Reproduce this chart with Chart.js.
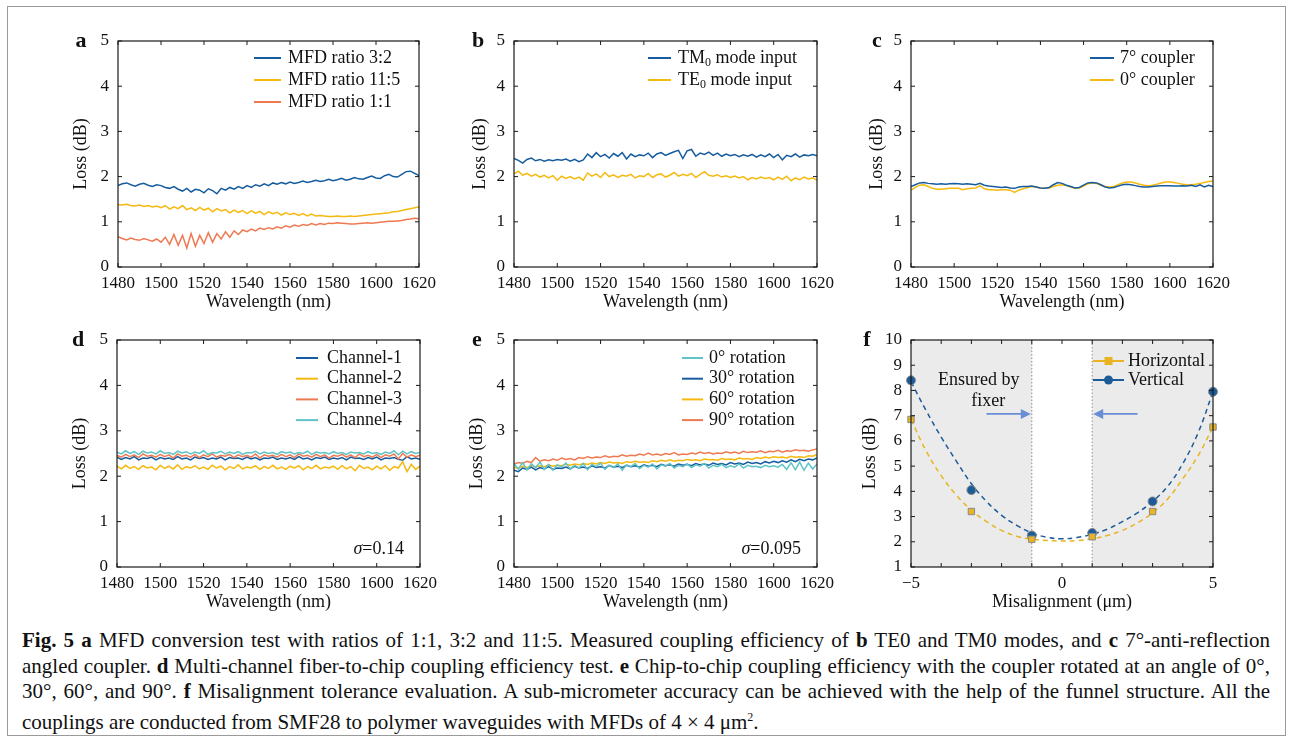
<!DOCTYPE html>
<html>
<head>
<meta charset="utf-8">
<script src="https://cdn.jsdelivr.net/npm/chart.js@4.4.1/dist/chart.umd.min.js"></script>
<style>
  body { margin: 0; background: #fff; width: 1292px; height: 741px; overflow: hidden; position: relative;
         font-family: "Liberation Serif", "Times New Roman", serif; }
  canvas { position: absolute; }
  #frame { position: absolute; left: 7px; top: 6px; width: 1277px; height: 728px; border: 1px solid #9a9a9a; }
  #caption { position: absolute; left: 22px; top: 628px; width: 1248px; font-size: 21px; line-height: 25.6px; color: #111; }
  #caption div { text-align: justify; text-align-last: justify; white-space: nowrap; }
  #caption div.last { text-align-last: left; }
</style>
</head>
<body>
<div id="frame"></div>
<canvas id="pa"></canvas>
<canvas id="pb"></canvas>
<canvas id="pc"></canvas>
<canvas id="pd"></canvas>
<canvas id="pe"></canvas>
<canvas id="pf"></canvas>
<div id="caption">
  <div><b>Fig. 5 a</b> MFD conversion test with ratios of 1:1, 3:2 and 11:5. Measured coupling efficiency of <b>b</b> TE0 and TM0 modes, and <b>c</b> 7°-anti-reflection</div>
  <div>angled coupler. <b>d</b> Multi-channel fiber-to-chip coupling efficiency test. <b>e</b> Chip-to-chip coupling efficiency with the coupler rotated at an angle of 0°,</div>
  <div>30°, 60°, and 90°. <b>f</b> Misalignment tolerance evaluation. A sub-micrometer accuracy can be achieved with the help of the funnel structure. All the</div>
  <div class="last">couplings are conducted from SMF28 to polymer waveguides with MFDs of 4 × 4 μm<sup style="font-size:12px">2</sup>.</div>
</div>
<script>
// wavelength grid, 1480..1620 nm every 2 nm (71 points)
var wavelength = [];
for (var w = 1480; w <= 1620; w += 2) wavelength.push(w);

// a - MFD ratios
var mfd32 = [
  1.80,1.84,1.86,1.82,1.79,1.83,1.85,1.81,1.78,1.82,
  1.80,1.76,1.74,1.78,1.72,1.68,1.74,1.66,1.72,1.70,
  1.64,1.73,1.69,1.62,1.74,1.70,1.76,1.72,1.78,1.74,
  1.80,1.76,1.82,1.79,1.84,1.80,1.86,1.83,1.87,1.84,
  1.88,1.85,1.87,1.90,1.87,1.89,1.92,1.89,1.91,1.94,
  1.91,1.93,1.96,1.92,1.94,1.98,1.95,1.94,1.98,2.01,
  1.97,1.96,2.02,2.05,2.00,1.99,2.05,2.11,2.12,2.07,
  2.02];
var mfd115 = [
  1.38,1.37,1.39,1.36,1.35,1.37,1.34,1.36,1.33,1.35,
  1.31,1.36,1.28,1.33,1.29,1.36,1.27,1.31,1.25,1.32,
  1.26,1.30,1.22,1.29,1.24,1.27,1.20,1.26,1.21,1.25,
  1.18,1.24,1.19,1.23,1.16,1.22,1.18,1.21,1.15,1.20,
  1.16,1.19,1.14,1.18,1.13,1.17,1.13,1.14,1.13,1.12,
  1.12,1.13,1.12,1.12,1.13,1.12,1.13,1.14,1.15,1.16,
  1.17,1.18,1.19,1.20,1.22,1.23,1.25,1.27,1.29,1.31,
  1.33];
var mfd11 = [
  0.67,0.63,0.60,0.64,0.61,0.59,0.63,0.60,0.57,0.62,
  0.55,0.66,0.50,0.72,0.48,0.70,0.42,0.74,0.46,0.70,
  0.52,0.76,0.55,0.74,0.62,0.78,0.66,0.80,0.72,0.82,
  0.78,0.84,0.80,0.86,0.83,0.87,0.84,0.89,0.86,0.91,
  0.88,0.93,0.90,0.94,0.92,0.96,0.93,0.96,0.94,0.97,
  0.96,0.98,0.97,0.96,0.95,0.95,0.96,0.97,0.98,0.97,
  0.98,0.99,1.00,1.01,1.01,1.02,1.03,1.05,1.06,1.08,
  1.07];

// b - TM0 / TE0 input
var tm0 = [
  2.40,2.36,2.30,2.38,2.41,2.35,2.38,2.34,2.37,2.35,
  2.38,2.36,2.39,2.34,2.38,2.33,2.37,2.50,2.42,2.53,
  2.44,2.49,2.41,2.51,2.45,2.53,2.39,2.50,2.44,2.48,
  2.46,2.52,2.42,2.50,2.53,2.47,2.51,2.55,2.58,2.40,
  2.57,2.60,2.45,2.52,2.49,2.54,2.47,2.52,2.45,2.50,
  2.46,2.49,2.44,2.48,2.45,2.49,2.43,2.48,2.44,2.50,
  2.42,2.49,2.37,2.47,2.44,2.50,2.43,2.48,2.46,2.49,
  2.46];
var te0 = [
  2.06,2.12,2.03,2.07,2.01,2.05,1.99,2.03,1.97,2.02,
  1.92,2.01,1.96,2.00,1.95,1.99,1.92,2.08,2.01,2.06,
  1.98,2.09,2.00,2.04,1.98,2.03,2.01,2.05,1.97,2.02,
  2.00,2.07,1.98,2.04,2.06,1.99,2.03,2.09,2.01,2.05,
  2.02,2.07,1.98,2.05,2.11,2.03,2.01,2.04,1.99,2.02,
  1.98,2.01,1.97,2.00,1.93,1.98,1.95,1.99,1.96,1.98,
  1.93,1.99,1.94,2.01,1.91,1.97,1.93,1.99,1.95,1.97,
  1.92];

// c - angled couplers
var coupler7 = [
  1.78,1.82,1.86,1.87,1.85,1.84,1.83,1.84,1.83,1.84,
  1.85,1.84,1.83,1.84,1.83,1.82,1.85,1.81,1.79,1.78,
  1.77,1.76,1.77,1.75,1.74,1.77,1.78,1.78,1.79,1.77,
  1.75,1.74,1.76,1.82,1.87,1.85,1.81,1.78,1.75,1.76,
  1.81,1.86,1.87,1.86,1.82,1.77,1.75,1.76,1.79,1.82,
  1.83,1.82,1.80,1.78,1.77,1.77,1.78,1.79,1.80,1.80,
  1.80,1.79,1.79,1.80,1.79,1.81,1.78,1.82,1.77,1.81,
  1.78];
var coupler0 = [
  1.70,1.76,1.81,1.82,1.78,1.74,1.72,1.72,1.73,1.74,
  1.74,1.74,1.71,1.73,1.74,1.75,1.80,1.73,1.71,1.71,
  1.70,1.71,1.71,1.70,1.65,1.70,1.73,1.76,1.78,1.77,
  1.75,1.74,1.75,1.78,1.81,1.82,1.80,1.77,1.74,1.75,
  1.79,1.84,1.86,1.85,1.81,1.78,1.77,1.78,1.82,1.86,
  1.88,1.88,1.86,1.83,1.81,1.80,1.81,1.83,1.86,1.88,
  1.88,1.87,1.85,1.83,1.82,1.82,1.83,1.85,1.87,1.89,
  1.90];

// d - channels
var channel1 = [
  2.42,2.37,2.41,2.38,2.43,2.36,2.40,2.39,2.42,2.36,
  2.41,2.38,2.40,2.37,2.43,2.38,2.40,2.36,2.42,2.39,
  2.41,2.37,2.40,2.38,2.42,2.36,2.41,2.39,2.40,2.37,
  2.42,2.38,2.41,2.36,2.40,2.39,2.42,2.37,2.40,2.38,
  2.41,2.37,2.43,2.38,2.40,2.36,2.41,2.39,2.42,2.37,
  2.40,2.38,2.41,2.36,2.42,2.39,2.40,2.37,2.41,2.38,
  2.42,2.36,2.40,2.39,2.41,2.37,2.35,2.43,2.38,2.40,
  2.37];
var channel2 = [
  2.22,2.16,2.24,2.17,2.21,2.15,2.23,2.18,2.20,2.14,
  2.24,2.17,2.22,2.16,2.25,2.15,2.21,2.18,2.23,2.16,
  2.20,2.15,2.24,2.18,2.22,2.14,2.21,2.17,2.25,2.16,
  2.20,2.18,2.23,2.15,2.21,2.17,2.24,2.16,2.20,2.15,
  2.22,2.18,2.23,2.14,2.21,2.17,2.24,2.16,2.20,2.18,
  2.22,2.15,2.23,2.16,2.21,2.12,2.24,2.17,2.20,2.14,
  2.22,2.16,2.23,2.13,2.21,2.18,2.32,2.10,2.26,2.15,
  2.22];
var channel3 = [
  2.46,2.42,2.48,2.43,2.47,2.41,2.49,2.44,2.46,2.42,
  2.48,2.43,2.47,2.40,2.49,2.44,2.46,2.42,2.48,2.41,
  2.47,2.43,2.49,2.42,2.46,2.44,2.48,2.41,2.47,2.43,
  2.46,2.42,2.49,2.40,2.47,2.44,2.46,2.42,2.48,2.43,
  2.47,2.41,2.49,2.44,2.46,2.42,2.48,2.43,2.47,2.40,
  2.46,2.44,2.48,2.42,2.47,2.41,2.49,2.43,2.46,2.42,
  2.48,2.41,2.47,2.44,2.49,2.38,2.50,2.42,2.47,2.43,
  2.46];
var channel4 = [
  2.53,2.49,2.56,2.50,2.54,2.48,2.55,2.51,2.53,2.49,
  2.56,2.50,2.52,2.48,2.55,2.51,2.54,2.49,2.53,2.50,
  2.56,2.48,2.52,2.51,2.55,2.49,2.53,2.50,2.54,2.48,
  2.52,2.51,2.55,2.49,2.53,2.50,2.52,2.48,2.54,2.51,
  2.53,2.49,2.52,2.50,2.55,2.48,2.53,2.51,2.52,2.49,
  2.54,2.50,2.52,2.48,2.53,2.51,2.52,2.49,2.54,2.50,
  2.52,2.48,2.53,2.50,2.56,2.47,2.55,2.49,2.54,2.50,
  2.52];

// e - rotation
var rot0 = [
  2.28,2.16,2.30,2.14,2.27,2.19,2.31,2.15,2.26,2.13,
  2.25,2.20,2.29,2.16,2.24,2.18,2.28,2.14,2.26,2.21,
  2.29,2.15,2.24,2.19,2.27,2.13,2.25,2.21,2.28,2.17,
  2.24,2.20,2.27,2.16,2.25,2.22,2.28,2.18,2.24,2.21,
  2.27,2.19,2.25,2.22,2.28,2.18,2.24,2.21,2.26,2.19,
  2.23,2.20,2.27,2.18,2.24,2.21,2.22,2.19,2.24,2.21,
  2.23,2.20,2.26,2.15,2.30,2.14,2.31,2.13,2.29,2.16,
  2.27];
var rot30 = [
  2.13,2.10,2.18,2.15,2.20,2.14,2.19,2.16,2.21,2.15,
  2.18,2.17,2.20,2.16,2.22,2.18,2.20,2.17,2.23,2.19,
  2.21,2.18,2.24,2.20,2.22,2.19,2.24,2.21,2.23,2.20,
  2.25,2.22,2.24,2.21,2.26,2.23,2.25,2.22,2.27,2.24,
  2.26,2.23,2.28,2.25,2.27,2.24,2.29,2.26,2.28,2.25,
  2.30,2.27,2.29,2.26,2.31,2.28,2.30,2.27,2.32,2.29,
  2.33,2.30,2.34,2.31,2.36,2.32,2.37,2.34,2.38,2.36,
  2.40];
var rot60 = [
  2.20,2.17,2.22,2.19,2.24,2.20,2.23,2.21,2.25,2.22,
  2.24,2.23,2.26,2.24,2.27,2.25,2.28,2.26,2.29,2.27,
  2.30,2.28,2.31,2.29,2.30,2.28,2.32,2.30,2.33,2.31,
  2.32,2.30,2.34,2.32,2.35,2.33,2.36,2.33,2.35,2.34,
  2.37,2.35,2.36,2.34,2.38,2.36,2.37,2.35,2.39,2.37,
  2.38,2.36,2.40,2.38,2.39,2.37,2.41,2.39,2.42,2.40,
  2.43,2.41,2.42,2.40,2.44,2.42,2.43,2.41,2.45,2.44,
  2.48];
var rot90 = [
  2.27,2.30,2.28,2.33,2.30,2.41,2.33,2.36,2.34,2.38,
  2.35,2.40,2.37,2.39,2.36,2.41,2.39,2.43,2.40,2.42,
  2.41,2.45,2.42,2.44,2.43,2.47,2.44,2.46,2.45,2.49,
  2.46,2.51,2.47,2.49,2.46,2.50,2.48,2.52,2.47,2.49,
  2.48,2.51,2.49,2.53,2.50,2.52,2.49,2.51,2.50,2.54,
  2.51,2.53,2.50,2.55,2.52,2.54,2.53,2.56,2.52,2.55,
  2.54,2.57,2.53,2.56,2.55,2.58,2.56,2.57,2.55,2.58,
  2.60];

// f - misalignment
var misalign = [-5, -3, -1, 1, 3, 5];
var lossHorizontal = [6.85, 3.2, 2.1, 2.2, 3.2, 6.55];
var lossVertical = [8.4, 4.05, 2.25, 2.35, 3.6, 7.95];
var fitX = [-5,-4.5,-4,-3.5,-3,-2.5,-2,-1.5,-1,-0.5,0,0.5,1,1.5,2,2.5,3,3.5,4,4.5,5];
var fitHorizontal = [6.85,5.6,4.62,3.85,3.25,2.8,2.45,2.22,2.1,2.05,2.03,2.05,2.12,2.25,2.45,2.75,3.15,3.7,4.5,5.4,6.55];
var fitVertical = [8.35,7.2,6.15,5.2,4.3,3.6,3.05,2.65,2.35,2.18,2.12,2.17,2.3,2.5,2.8,3.15,3.6,4.2,5.1,6.3,7.95];
var fixerBand = [-1, 1];

var FONT = '"Liberation Serif", "Times New Roman", serif';
var INK = '#111111';
var BLUE = '#165c9e', YELLOW = '#f5b90f', ORANGE = '#ef7a52', CYAN = '#5ec4c8';
var F_YELLOW = '#e9b322', F_BLUE = '#1a5b98', ARROW = '#6a8ed6';

function strokeLine(ctx, x1, y1, x2, y2) {
  ctx.beginPath(); ctx.moveTo(x1, y1); ctx.lineTo(x2, y2); ctx.stroke();
}

function drawLabel(ctx, text, x, y, subAt) {
  ctx.textAlign = 'left'; ctx.textBaseline = 'middle'; ctx.fillStyle = INK;
  ctx.font = '18px ' + FONT;
  if (subAt == null) { ctx.fillText(text, x, y); return; }
  var head = text.slice(0, subAt), sub = text.charAt(subAt), tail = text.slice(subAt + 1);
  ctx.fillText(head, x, y); x += ctx.measureText(head).width;
  ctx.font = '12px ' + FONT; ctx.fillText(sub, x, y + 5); x += ctx.measureText(sub).width;
  ctx.font = '18px ' + FONT; ctx.fillText(tail, x, y);
}

function drawMarker(ctx, style, x, y, fill) {
  ctx.fillStyle = fill;
  if (style === 'rect') ctx.fillRect(x - 4, y - 4, 8, 8);
  else { ctx.beginPath(); ctx.arc(x, y, 4.5, 0, Math.PI * 2); ctx.fill(); }
}

function arrow(ctx, x1, y, x2) {
  var dir = x2 > x1 ? 1 : -1;
  ctx.strokeStyle = ARROW; ctx.fillStyle = ARROW; ctx.lineWidth = 1.6; ctx.setLineDash([]);
  strokeLine(ctx, x1, y, x2 - dir * 9, y);
  ctx.beginPath(); ctx.moveTo(x2, y); ctx.lineTo(x2 - dir * 10, y - 5); ctx.lineTo(x2 - dir * 10, y + 5); ctx.closePath(); ctx.fill();
}

var deco = {
  id: 'deco',
  beforeDatasetsDraw: function (chart, args, o) {
    if (!o.fixer) return;
    var ctx = chart.ctx, a = chart.chartArea, xs = chart.scales.x, ys = chart.scales.y;
    var x0 = xs.getPixelForValue(xs.min), xl = xs.getPixelForValue(fixerBand[0]);
    var xr = xs.getPixelForValue(fixerBand[1]), x1 = xs.getPixelForValue(xs.max);
    ctx.save();
    ctx.fillStyle = '#ebebeb';
    ctx.fillRect(x0, a.top, xl - x0, a.bottom - a.top);
    ctx.fillRect(xr, a.top, x1 - xr, a.bottom - a.top);
    ctx.strokeStyle = '#8c8c8c'; ctx.lineWidth = 1; ctx.setLineDash([1.5, 2]);
    strokeLine(ctx, xl, a.top, xl, a.bottom);
    strokeLine(ctx, xr, a.top, xr, a.bottom);
    var ay = ys.getPixelForValue(7.07);
    arrow(ctx, xs.getPixelForValue(-2.5), ay, xl - 1);
    arrow(ctx, xs.getPixelForValue(2.5), ay, xr + 1);
    ctx.fillStyle = INK; ctx.font = '18px ' + FONT; ctx.textAlign = 'center'; ctx.textBaseline = 'middle';
    ctx.fillText('Ensured by', xs.getPixelForValue(-2.76), ys.getPixelForValue(8.42));
    ctx.fillText('fixer', xs.getPixelForValue(-2.44), ys.getPixelForValue(7.59));
    ctx.restore();
  },
  afterDatasetsDraw: function (chart, args, o) {
    var ctx = chart.ctx, a = chart.chartArea, xs = chart.scales.x, ys = chart.scales.y;
    ctx.save();
    ctx.setLineDash([]);
    ctx.strokeStyle = '#1a1a1a'; ctx.lineWidth = 1.2;
    ctx.strokeRect(a.left, a.top, a.right - a.left, a.bottom - a.top);
    ctx.lineWidth = 1;
    xs.ticks.forEach(function (t) {
      var x = xs.getPixelForValue(t.value);
      strokeLine(ctx, x, a.bottom, x, a.bottom - 4);
      strokeLine(ctx, x, a.top, x, a.top + 4);
    });
    ys.ticks.forEach(function (t) {
      var y = ys.getPixelForValue(t.value);
      strokeLine(ctx, a.left, y, a.left + 4, y);
      strokeLine(ctx, a.right, y, a.right - 4, y);
    });
    // panel letter
    ctx.fillStyle = INK; ctx.font = 'bold 22px ' + FONT; ctx.textAlign = 'center'; ctx.textBaseline = 'middle';
    ctx.fillText(o.letter, a.left - o.letterDx, a.top);
    // legend
    var L = o.legend, row = 0;
    chart.data.datasets.forEach(function (ds) {
      if (!ds.inLegend) return;
      var y = a.top + L.y0 + row * L.dy;
      var col = ds.legendColor || ds.borderColor;
      ctx.strokeStyle = col; ctx.lineWidth = 2;
      strokeLine(ctx, a.left + L.x1, y, a.left + L.x2, y);
      if (ds.legendMarker) drawMarker(ctx, ds.legendMarker, a.left + (L.x1 + L.x2) / 2, y, col);
      drawLabel(ctx, ds.label, a.left + L.tx, y, ds.subAt);
      row++;
    });
    // sigma note
    if (o.sigma) {
      ctx.textBaseline = 'middle'; ctx.textAlign = 'left'; ctx.fillStyle = INK;
      ctx.font = '18px ' + FONT;
      var rest = '=' + o.sigma, rw = ctx.measureText(rest).width;
      ctx.font = 'italic 18px ' + FONT;
      var sw = ctx.measureText('σ').width;
      var sx = a.right - 16 - rw - sw, sy = a.bottom - 18;
      ctx.fillText('σ', sx, sy);
      ctx.font = '18px ' + FONT;
      ctx.fillText(rest, sx + sw, sy);
    }
    ctx.restore();
  }
};

function panel(id, box, cfg) {
  var cv = document.getElementById(id);
  cv.width = box.r - box.l + 90 + 25;
  cv.height = box.b - box.t + 20 + 50;
  cv.style.left = (box.l - 90) + 'px';
  cv.style.top = (box.t - 20) + 'px';
  return new Chart(cv.getContext('2d'), {
    type: 'line',
    data: { labels: cfg.labels, datasets: cfg.datasets },
    options: {
      responsive: false,
      animation: false,
      layout: { padding: { left: 0, top: 20, right: 25, bottom: 0 } },
      elements: { point: { radius: 0 }, line: { borderWidth: 1.5, tension: 0 } },
      plugins: { legend: { display: false }, tooltip: { enabled: false }, deco: cfg.deco },
      scales: {
        x: {
          type: 'linear', min: cfg.xMin, max: cfg.xMax,
          afterFit: function (s) { s.height = 50; },
          grid: { display: false, drawTicks: false }, border: { display: false },
          ticks: { stepSize: cfg.xStep, autoSkip: false, maxRotation: 0, padding: 6, color: INK,
                   font: { family: FONT, size: 17 }, callback: cfg.xLabel || function (v) { return String(v); } },
          title: { display: true, text: cfg.xTitle, color: INK, font: { family: FONT, size: 18 }, padding: { top: 0, bottom: 4 } }
        },
        y: {
          min: cfg.yMin, max: cfg.yMax,
          afterFit: function (s) { s.width = 90; },
          grid: { display: false, drawTicks: false }, border: { display: false },
          ticks: { stepSize: 1, padding: 9, color: INK, font: { family: FONT, size: 17 },
                   callback: function (v) { return String(v); } },
          title: { display: true, text: 'Loss (dB)', color: INK, font: { family: FONT, size: 18 },
                   padding: { top: 90 - cfg.yTitleOff - 10.8, bottom: 0 } }
        }
      }
    },
    plugins: [deco]
  });
}

function spectrum(label, values, color, extra) {
  var ds = { label: label, data: values, borderColor: color, inLegend: true };
  for (var k in extra || {}) ds[k] = extra[k];
  return ds;
}

var specAxis = { labels: wavelength, xMin: 1480, xMax: 1620, xStep: 20, yMin: 0, yMax: 5, xTitle: 'Wavelength (nm)' };
function spec(extra) { var c = {}; for (var k in specAxis) c[k] = specAxis[k]; for (k in extra) c[k] = extra[k]; return c; }

panel('pa', { l: 118, t: 41, r: 419, b: 267 }, spec({
  yTitleOff: 37,
  datasets: [spectrum('MFD ratio 3:2', mfd32, BLUE), spectrum('MFD ratio 11:5', mfd115, YELLOW), spectrum('MFD ratio 1:1', mfd11, ORANGE)],
  deco: { letter: 'a', letterDx: 37, legend: { x1: 136, x2: 163, tx: 170, y0: 17, dy: 22 } }
}));

panel('pb', { l: 514, t: 41, r: 817, b: 267 }, spec({
  yTitleOff: 34,
  datasets: [spectrum('TM0 mode input', tm0, BLUE, { subAt: 2 }), spectrum('TE0 mode input', te0, YELLOW, { subAt: 2 })],
  deco: { letter: 'b', letterDx: 36, legend: { x1: 134, x2: 157, tx: 164, y0: 17, dy: 22 } }
}));

panel('pc', { l: 911, t: 41, r: 1213, b: 267 }, spec({
  yTitleOff: 34,
  datasets: [spectrum('7° coupler', coupler7, BLUE), spectrum('0° coupler', coupler0, YELLOW)],
  deco: { letter: 'c', letterDx: 34, legend: { x1: 179, x2: 203, tx: 209, y0: 17, dy: 22 } }
}));

panel('pd', { l: 117, t: 340, r: 420, b: 567 }, spec({
  yTitleOff: 37,
  datasets: [spectrum('Channel-1', channel1, BLUE, { order: 4 }), spectrum('Channel-2', channel2, YELLOW, { order: 3 }),
             spectrum('Channel-3', channel3, ORANGE, { order: 2 }), spectrum('Channel-4', channel4, CYAN, { order: 1 })],
  deco: { letter: 'd', letterDx: 39, legend: { x1: 179, x2: 201, tx: 210, y0: 18, dy: 20.7 }, sigma: '0.14' }
}));

panel('pe', { l: 514, t: 340, r: 817, b: 567 }, spec({
  yTitleOff: 37,
  datasets: [spectrum('0° rotation', rot0, CYAN), spectrum('30° rotation', rot30, BLUE),
             spectrum('60° rotation', rot60, YELLOW), spectrum('90° rotation', rot90, ORANGE)],
  deco: { letter: 'e', letterDx: 37, legend: { x1: 168, x2: 189, tx: 195, y0: 18, dy: 20.7 }, sigma: '0.095' }
}));

function pts(xs, ys) { return xs.map(function (x, i) { return { x: x, y: ys[i] }; }); }

panel('pf', { l: 911, t: 340, r: 1213, b: 567 }, {
  labels: [], xMin: -5, xMax: 5, xStep: 1, yMin: 1, yMax: 10, yTitleOff: 41,
  xTitle: 'Misalignment (μm)',
  xLabel: function (v) { return v === -5 ? '\u22125' : (v === 0 || v === 5) ? String(v) : ''; },
  datasets: [
    { label: 'Horizontal', data: pts(misalign, lossHorizontal), showLine: false, pointStyle: 'rect', pointRadius: 4.5,
      pointBackgroundColor: F_YELLOW, pointBorderColor: '#8a8a8a', pointBorderWidth: 1, borderColor: F_YELLOW,
      clip: false, inLegend: true, legendMarker: 'rect' },
    { label: 'Vertical', data: pts(misalign, lossVertical), showLine: false, pointStyle: 'circle', pointRadius: 4.5,
      pointBackgroundColor: F_BLUE, pointBorderColor: '#8a8a8a', pointBorderWidth: 1, borderColor: F_BLUE,
      clip: false, inLegend: true, legendMarker: 'circle' },
    { label: 'Horizontal fit', data: pts(fitX, fitHorizontal), borderColor: F_YELLOW, borderDash: [5, 4], tension: 0.4, borderWidth: 1.5 },
    { label: 'Vertical fit', data: pts(fitX, fitVertical), borderColor: F_BLUE, borderDash: [5, 4], tension: 0.4, borderWidth: 1.5 }
  ],
  deco: { letter: 'f', letterDx: 44, legend: { x1: 182, x2: 213, tx: 217, y0: 21, dy: 19 }, fixer: true }
});
</script>
</body>
</html>
